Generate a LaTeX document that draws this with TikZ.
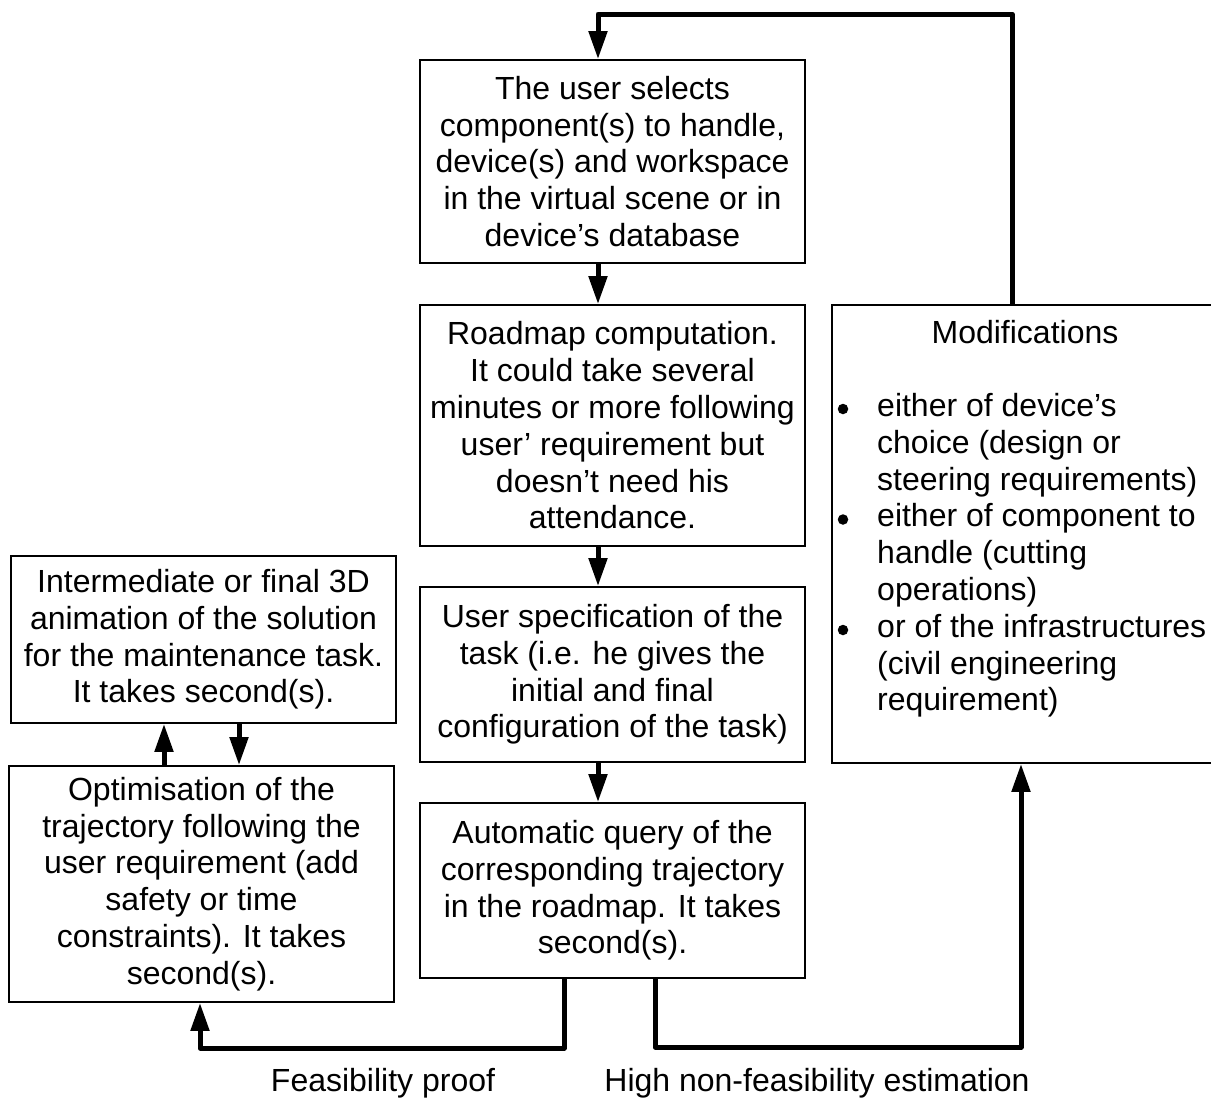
\documentclass[tikz,border=0pt]{standalone}
\usepackage{fontspec}
\setmainfont{Liberation Sans}
\usetikzlibrary{arrows.meta,calc}
\begin{document}
\begin{tikzpicture}[x=1pt,y=-1pt,
  txt/.style={font=\fontsize{32}{36.8}\selectfont},
  box/.style={txt, draw, line width=1.8pt, align=center, inner sep=0pt},
  conn/.style={line width=5pt, line join=round, -{Triangle[length=28pt,width=18pt]}},
  lbl/.style={txt, inner sep=0pt},
  dot/.style={circle, fill, inner sep=0pt, minimum size=10.5pt}]
\useasboundingbox (0,0) rectangle (1211,1104);
\fill[white] (0,0) rectangle (1211,1104);
% boxes
\node[box, minimum width=385pt, minimum height=203pt] (sel) at (612.5,161.5)
  {The user selects\\component(s) to handle,\\device(s) and workspace\\in the virtual scene or in\\device’s database};
\node[box, minimum width=385pt, minimum height=241pt] (road) at (612.5,425.5)
  {Roadmap computation.\\It could take several\\minutes or more following\\user’ requirement but\\doesn’t need his\\attendance.};
\node[box, minimum width=385pt, minimum height=175pt] (spec) at (612.5,674.5)
  {User specification of the\\task (i.e. he gives the\\initial and final\\configuration of the task)};
\node[box, minimum width=385pt, minimum height=175pt] (auto) at (612.5,890.5)
  {Automatic query of the\\corresponding trajectory\\in the roadmap. It takes\\second(s).};
\node[box, minimum width=385pt, minimum height=167pt] (anim) at (203.5,639.5)
  {Intermediate or final 3D\\animation of the solution\\for the maintenance task.\\It takes second(s).};
\node[box, minimum width=385pt, minimum height=236pt] (opt) at (201.5,884)
  {Optimisation of the\\trajectory following the\\user requirement (add\\safety or time\\constraints). It takes\\second(s).};
\node[box, minimum width=381pt, minimum height=458pt] (mod) at (1022.5,534) {};
% modifications content (base anchor = baseline of the last line)
\node[lbl, anchor=base] (modt) at (1025,343.5) {Modifications};
\node[lbl, anchor=base west, align=left] (m1) at (877,490.1) {either of device’s\\choice (design or\\steering requirements)};
\node[lbl, anchor=base west, align=left] (m2) at (877,600.5) {either of component to\\handle (cutting\\operations)};
\node[lbl, anchor=base west, align=left] (m3) at (877,710.9) {or of the infrastructures\\(civil engineering\\requirement)};
\node[dot] (d1) at (843,409) {};
\node[dot] (d2) at (843,519.5) {};
\node[dot] (d3) at (843,630) {};
% labels
\node[lbl] (feas) at (383,1083) {Feasibility proof};
\node[lbl] (high) at (817,1083) {High non-feasibility estimation};
% connector coordinates
\coordinate (ax) at (598,0);
\coordinate (mx) at (1012,14);
\coordinate (tx) at (598,14);
\coordinate (fl) at (564,1048);
\coordinate (fr) at (200,1048);
\coordinate (hl) at (655,1047);
\coordinate (hr) at (1021,1047);
\coordinate (ua) at (164,0);
\coordinate (da) at (239,0);
% connectors
\draw[conn] (mod.north -| mx) -- (mx) -- (tx) -- (sel.north -| ax);
\draw[conn] (sel.south -| ax) -- (road.north -| ax);
\draw[conn] (road.south -| ax) -- (spec.north -| ax);
\draw[conn] (spec.south -| ax) -- (auto.north -| ax);
\draw[conn] (auto.south -| fl) -- (fl) -- (fr) -- (opt.south -| fr);
\draw[conn] (auto.south -| hl) -- (hl) -- (hr) -- (mod.south -| hr);
\draw[conn] (opt.north -| ua) -- (anim.south -| ua);
\draw[conn] (anim.south -| da) -- (opt.north -| da);
\end{tikzpicture}
\end{document}
